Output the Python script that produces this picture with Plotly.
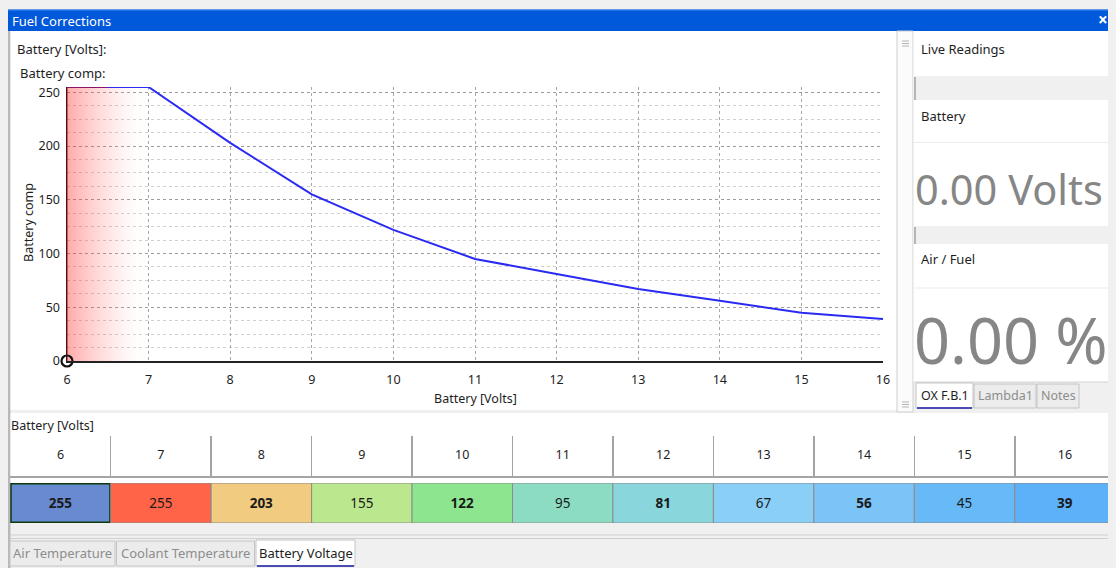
import plotly.graph_objects as go

# The page body keeps its default 8px margin, so the figure is laid out
# 8px up/left of the window coordinates used below.
OFF = 8
W, H = 1108, 560
FONT = "Noto Sans, Open Sans, DejaVu Sans, sans-serif"
TXT = "#1e1e1e"

# ---------------- data ----------------
volts = [6, 7, 8, 9, 10, 11, 12, 13, 14, 15, 16]
battery_comp = [255, 255, 203, 155, 122, 95, 81, 67, 56, 45, 39]
header_labels = ["6", "7", "8", "9", "10", "11", "12", "13", "14", "15", "16"]
cell_colors = ["#688ad0", "#ff6448", "#f0cb80", "#bbe78e", "#8de68f", "#8cdcc4",
               "#8ad6dd", "#8acff6", "#7cc4f7", "#67b9f8", "#5cb1f8"]
cell_bold = [True, False, True, False, True, False, True, False, True, False, True]
selected_cell = 0
live_volts = 6
live_comp = 0
warning_band = [6, 7]
y_max = 255
y_ticks = [0, 50, 100, 150, 200, 250]
live_labels = ["Battery", "Air / Fuel"]
live_values = ["0.00 Volts", "0.00 %"]
bottom_tabs = ["Air Temperature", "Coolant Temperature", "Battery Voltage"]
side_tabs = ["OX F.B.1", "Lambda1", "Notes"]


def X(px):
    return (px - OFF) / W


def Y(py):
    return 1 - (py - OFF) / H


shapes = []


def rect(x0, y0, x1, y1, fill, line=None, lw=1, layer="below"):
    shapes.append(dict(type="rect", xref="paper", yref="paper",
                       x0=X(x0), x1=X(x1), y0=Y(y1), y1=Y(y0),
                       fillcolor=fill, layer=layer,
                       line=dict(color=line or fill, width=lw if line else 0)))


def hline(x0, x1, y, color, w=1, layer="below"):
    shapes.append(dict(type="line", xref="paper", yref="paper",
                       x0=X(x0), x1=X(x1), y0=Y(y), y1=Y(y), layer=layer,
                       line=dict(color=color, width=w)))


def vline(x, y0, y1, color, w=1, layer="below"):
    shapes.append(dict(type="line", xref="paper", yref="paper",
                       x0=X(x), x1=X(x), y0=Y(y0), y1=Y(y1), layer=layer,
                       line=dict(color=color, width=w)))


annotations = []


def label(x, y, text, size=13, color=TXT, anchor="left", angle=0):
    annotations.append(dict(xref="paper", yref="paper", x=X(x), y=Y(y),
                            text=text, showarrow=False, xanchor=anchor,
                            yanchor="middle", textangle=angle,
                            font=dict(family=FONT, size=size, color=color)))


# ---------------- window chrome ----------------
rect(8, 9.5, 1116, 31, "#0058da")
hline(8, 1116, 10, "#4d8cf0", 1)
rect(8, 31, 10.5, 568, "#b8b8b8")
# chart panel
rect(10.5, 31, 897, 410, "#ffffff")
# splitter
rect(897, 31, 913, 412, "#fbfbfb", "#cfcfcf", 1)
for gy in (41, 43.5, 46, 402, 404.5, 407):
    hline(902, 909, gy, "#b4b4b4", 1)
# right panel
rect(913.5, 31, 1116, 382, "#ffffff")
rect(914, 76, 1116, 100, "#f0f0f0")
rect(914, 226, 1116, 244, "#f0f0f0")
vline(915, 77, 100, "#7a7a7a", 1)
vline(915, 227, 244, "#7a7a7a", 1)
hline(914, 1116, 142.5, "#ececec", 1)
hline(914, 1116, 288, "#ececec", 1)
hline(914, 1116, 382, "#d2d2d2", 1)
# side tabs
rect(974, 384, 1036, 408, "#ececec", "#c4c4c4", 1)
rect(1037, 384, 1079, 408, "#ececec", "#c4c4c4", 1)
rect(916, 383, 973, 408, "#ffffff", "#c4c4c4", 1)
hline(917, 972, 408, "#4b4bb4", 2)
# table panel
rect(10.5, 413, 1116, 523, "#ffffff")
hline(10.5, 1116, 535, "#cfcfcf", 1)
hline(10.5, 1116, 538.5, "#cfcfcf", 1)
# bottom tabs
rect(10, 541, 115, 566, "#ececec", "#c4c4c4", 1)
rect(116.5, 541, 254.5, 566, "#ececec", "#c4c4c4", 1)
rect(256, 540, 355, 566, "#ffffff", "#c4c4c4", 1)
hline(257, 354, 566, "#4b4bb4", 2)

# ---------------- texts ----------------
label(10, 20.5, "Fuel Corrections", 13, "#ffffff")
label(1103, 19.5, "<b>×</b>", 17, "#ffffff", "center")
label(15, 49, "Battery [Volts]:", 13)
label(18, 73, "Battery comp:", 13)
label(475, 398, "Battery [Volts]", 12.5, anchor="center")
label(29, 223, "Battery comp", 12.5, anchor="center", angle=-90)
label(919, 49, "Live Readings", 13)
label(919, 116, live_labels[0], 13)
label(913, 189, live_values[0], 41.5, "#868686")
label(919, 259, live_labels[1], 13)
label(912, 339, live_values[1], 63, "#868686")
tab_x = [(916, 973), (974, 1036), (1037, 1079)]
for (a, b), t, sel in zip(tab_x, side_tabs, [True, False, False]):
    label((a + b) / 2, 395.5, t, 12.5, TXT if sel else "#8c8c8c", "center")
label(9, 425.5, "Battery [Volts]", 12.5)
btab_x = [(10, 115), (116.5, 254.5), (256, 355)]
for (a, b), t, sel in zip(btab_x, bottom_tabs, [False, False, True]):
    label((a + b) / 2, 552.5, t, 13, TXT if sel else "#8c8c8c", "center")

# ---------------- traces ----------------
fig = go.Figure()

# red warning gradient
fig.add_trace(go.Scatter(
    x=[warning_band[0], warning_band[1], warning_band[1], warning_band[0]],
    y=[0, 0, y_max, y_max], mode="lines", fill="toself",
    fillgradient=dict(type="horizontal",
                      colorscale=[[0, "rgba(255,30,30,0.38)"],
                                  [0.6, "rgba(255,120,120,0.14)"],
                                  [1, "rgba(255,255,255,0)"]]),
    line=dict(width=0), hoverinfo="skip", xaxis="x", yaxis="y"))

# compensation curve
fig.add_trace(go.Scatter(x=volts, y=battery_comp, mode="lines",
                         line=dict(color="#2a2af2", width=2),
                         xaxis="x", yaxis="y"))

# red edge of warning zone
mid = (warning_band[0] + warning_band[1]) / 2
fig.add_trace(go.Scatter(x=[mid, warning_band[0], warning_band[0]],
                         y=[y_max, y_max, 0], mode="lines",
                         line=dict(color="rgba(215,0,0,0.55)", width=2),
                         xaxis="x", yaxis="y", cliponaxis=False))

# live cursor
fig.add_trace(go.Scatter(x=[live_volts], y=[live_comp], mode="markers",
                         marker=dict(symbol="circle-open", size=11, color="#111111",
                                     line=dict(width=2.2)),
                         cliponaxis=False, xaxis="x", yaxis="y"))

# table header labels
fig.add_trace(go.Scatter(x=volts, y=[0.5] * len(volts), mode="text",
                         text=header_labels,
                         textfont=dict(family=FONT, size=12.5, color=TXT),
                         xaxis="x3", yaxis="y3"))

# table value cells
cell_text = [f"<b>{v}</b>" if b else str(v) for v, b in zip(battery_comp, cell_bold)]
line_cols = ["#0c3a0c" if i == selected_cell else "#8c8c8c" for i in range(len(volts))]
line_ws = [3 if i == selected_cell else 1 for i in range(len(volts))]
fig.add_trace(go.Bar(x=volts, y=[1] * len(volts), width=1,
                     marker=dict(color=cell_colors, line=dict(color=line_cols, width=line_ws)),
                     text=cell_text, textposition="inside", insidetextanchor="middle",
                     textangle=0, constraintext="none",
                     textfont=dict(family=FONT, size=13.5, color="#1a1a1a"),
                     xaxis="x2", yaxis="y2"))

# live indicator above the table
fig.add_trace(go.Scatter(x=[live_volts], y=[1.075], mode="markers",
                         marker=dict(symbol="square", size=6, color="#22dd22"),
                         cliponaxis=False, xaxis="x2", yaxis="y2"))

tab_dom = [X(10.25), min(1.0, X(1115.2))]

fig.update_layout(
    width=W, height=H, autosize=False,
    margin=dict(l=0, r=0, t=0, b=0, pad=0, autoexpand=False),
    paper_bgcolor="#f0f0f0", plot_bgcolor="rgba(0,0,0,0)",
    showlegend=False, hovermode=False, dragmode=False, bargap=0,
    font=dict(family=FONT, color=TXT),
    shapes=shapes, annotations=annotations,
    xaxis=dict(domain=[X(67), X(883)], range=[6, 16], anchor="y", automargin=False,
               tickvals=volts, ticktext=header_labels,
               showgrid=True, gridcolor="#a8a8a8", griddash="dot", gridwidth=1,
               showline=True, linecolor="#222222", linewidth=1.5,
               zeroline=False, ticks="", ticklabelstandoff=6,
               tickfont=dict(family=FONT, size=12.5, color=TXT), fixedrange=True),
    yaxis=dict(domain=[Y(361), Y(87)], range=[0, y_max], anchor="x", automargin=False,
               tickvals=y_ticks,
               showgrid=True, gridcolor="#9c9c9c", griddash="dot", gridwidth=1,
               minor=dict(dtick=12.5, tick0=0, showgrid=True, gridcolor="#d0d0d0",
                          griddash="dot", gridwidth=1),
               showline=True, linecolor="#222222", linewidth=1.5,
               zeroline=False, ticks="", ticklabelstandoff=3,
               tickfont=dict(family=FONT, size=12.5, color=TXT), fixedrange=True),
    xaxis2=dict(domain=tab_dom, range=[5.5, 16.5], anchor="y2", visible=False,
                automargin=False, fixedrange=True),
    yaxis2=dict(domain=[Y(523), Y(483)], range=[0, 1], anchor="x2", visible=False,
                automargin=False, fixedrange=True),
    xaxis3=dict(domain=tab_dom, range=[5.5, 16.5], anchor="y3", automargin=False,
                tickmode="linear", tick0=5.5, dtick=1, showgrid=True,
                gridcolor="#a4a4a4", gridwidth=1.5, showticklabels=False,
                showline=True, linecolor="#a4a4a4", linewidth=2,
                zeroline=False, ticks="", fixedrange=True),
    yaxis3=dict(domain=[Y(476), Y(436)], range=[0, 1], anchor="x3", visible=False,
                automargin=False, fixedrange=True),
)

fig.write_html("out.html", config={"displayModeBar": False, "staticPlot": True},
               post_script="document.body.style.background='#f0f0f0';")
